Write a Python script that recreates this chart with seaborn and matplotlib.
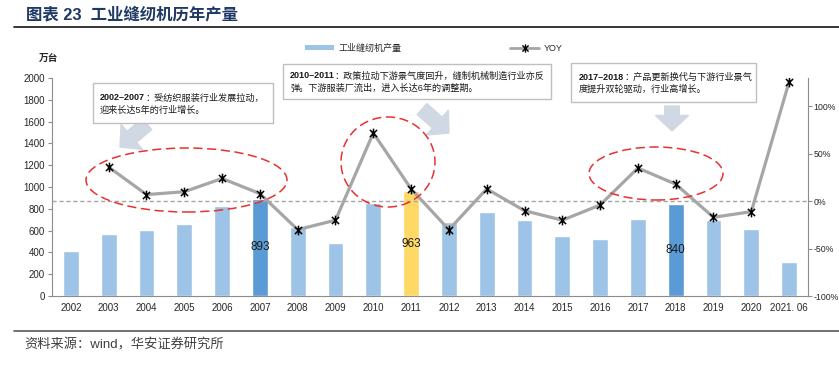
import numpy as np
import pandas as pd
import matplotlib
matplotlib.use('Agg')
import matplotlib.pyplot as plt
import seaborn as sns
from matplotlib.patches import Ellipse, Rectangle, Patch
from matplotlib.lines import Line2D
from matplotlib.path import Path

# Data
years = ['2002', '2003', '2004', '2005', '2006', '2007', '2008', '2009', '2010', '2011',
         '2012', '2013', '2014', '2015', '2016', '2017', '2018', '2019', '2020', '2021. 06']
output = [415, 565, 605, 660, 825, 893, 630, 490, 850, 963,
          680, 770, 700, 555, 525, 705, 840, 695, 615, 310]
yoy = [np.nan, 36, 7, 10, 24, 8, -30, -20, 72, 13,
       -30, 13, -10, -20, -4, 35, 18, -17, -11, 126]
labelled = {'2007': '893', '2011': '963', '2018': '840'}

c_bar = '#9DC3E6'
c_dark = '#5B9BD5'
c_yel = '#FFD966'
colors = [c_dark if y in ('2007', '2018') else c_yel if y == '2011' else c_bar for y in years]

df = pd.DataFrame({'year': years, 'output': output, 'yoy': yoy})
df['pos'] = range(len(df))

sns.set_style('white')
plt.rcParams['font.family'] = ['Liberation Sans', 'Noto Sans CJK SC', 'DejaVu Sans']
plt.rcParams['axes.unicode_minus'] = False

W, H = 839, 365
fig = plt.figure(figsize=(W / 100, H / 100), dpi=100)


def fx(px):
    return px / W


def fy(py):
    return 1 - py / H


ax = fig.add_axes([fx(52), fy(296), fx(808) - fx(52), fy(78) - fy(296)])
sns.barplot(data=df, x='year', y='output', hue='year', palette=colors, legend=False,
            width=0.42, saturation=1, ax=ax)
ax.set_xlim(-0.5, len(years) - 0.5)
ax.set_ylim(0, 2000)
ax.set_yticks(range(0, 2001, 200))
ax.set_xlabel('')
ax.set_ylabel('')
ax.set_xticks(np.arange(-0.5, len(years), 1), minor=True)
ax.tick_params(axis='x', which='major', length=0, labelsize=7, pad=5, colors='#262626')
ax.tick_params(axis='x', which='minor', length=4, direction='out', color='#8C8C8C', width=0.8)
ax.tick_params(axis='y', length=3, direction='out', labelsize=7, color='#8C8C8C',
               colors='#262626', width=0.8, pad=2)
for s in ['top', 'right']:
    ax.spines[s].set_visible(False)
for s in ['left', 'bottom']:
    ax.spines[s].set_color('#8C8C8C')
    ax.spines[s].set_linewidth(0.8)

for i, y in enumerate(years):
    if y in labelled:
        ax.text(i, output[i] / 2, labelled[y], ha='center', va='center', fontsize=8.5,
                color='#1A1A1A')

# YOY on the right axis
ax2 = ax.twinx()
ax2.axhline(0, color='#A6A6A6', ls=(0, (3, 2)), lw=1, zorder=1)
sns.lineplot(data=df, x='pos', y='yoy', ax=ax2, color='#A6A6A6', lw=2.3, zorder=2)
star = Path([(-1, -1), (1, 1), (-1, 1), (1, -1), (0, -1.35), (0, 1.35)],
            [Path.MOVETO, Path.LINETO] * 3)
ax2.plot(df['pos'], df['yoy'], ls='none', marker=star, ms=7, mec='black', mfc='none',
         mew=1.1, zorder=3)
ax2.set_ylim(-100, 130)
ax2.set_yticks([-100, -50, 0, 50, 100])
ax2.set_yticklabels([f'{v}%' for v in [-100, -50, 0, 50, 100]])
ax2.set_xlabel('')
ax2.set_ylabel('')
ax2.tick_params(axis='y', length=3, direction='out', labelsize=6.3, color='#8C8C8C',
                colors='#262626', width=0.8, pad=1)
for s in ['top', 'left', 'bottom']:
    ax2.spines[s].set_visible(False)
ax2.spines['right'].set_color('#8C8C8C')
ax2.spines['right'].set_linewidth(0.8)
ax2.set_xlim(-0.5, len(years) - 0.5)

# unit label
fig.text(fx(49), fy(58), '万台', ha='center', va='center', fontsize=7, weight='bold',
         color='#262626')

# legend
handles = [Patch(facecolor=c_bar, edgecolor='none'),
           Line2D([], [], color='#A6A6A6', lw=2, marker=star, ms=6, mec='black', mfc='none',
                  mew=1)]
fig.legend(handles, ['工业缝纫机产量', 'YOY'], loc='center', bbox_to_anchor=(fx(434), fy(48)),
           ncol=2, frameon=False, fontsize=6.5, handlelength=3.2, handleheight=0.6,
           columnspacing=12, handletextpad=0.5)

# title and rules
fig.text(fx(26), fy(15), '图表 23  工业缝纫机历年产量', ha='left', va='center', fontsize=11.8,
         weight='bold', color='#1F3864')
fig.add_artist(Line2D([fx(14), 1], [fy(27), fy(27)], color='#262626', lw=1.3))
fig.add_artist(Line2D([fx(14), 1], [fy(331), fy(331)], color='#595959', lw=1.2))
fig.text(fx(24), fy(345), '资料来源：wind，华安证券研究所', ha='left', va='center',
         fontsize=9.5, color='#404040')

# annotation boxes
notes = [
    ((93, 83, 273, 123), (100, 98, 110), '2002–2007', '：受纺织服装行业发展拉动，',
     '迎来长达5年的行业增长。'),
    ((283, 64, 551, 99), (290, 76, 88), '2010–2011', '：政策拉动下游景气度回升，缝制机械制造行业亦反',
     '弹。下游服装厂流出，进入长达6年的调整期。'),
    ((571, 63, 756, 102), (579, 77, 89), '2017–2018', '：产品更新换代与下游行业景气',
     '度提升双轮驱动，行业高增长。'),
]
fig.canvas.draw()
renderer = fig.canvas.get_renderer()
for (x0, y0, x1, y1), (tx, ty1, ty2), bold, rest, line2 in notes:
    fig.add_artist(Rectangle((fx(x0), fy(y1)), fx(x1) - fx(x0), fy(y0) - fy(y1),
                             facecolor='white', edgecolor='#BFBFBF', lw=1, zorder=5))
    t = fig.text(fx(tx), fy(ty1), bold, ha='left', va='center', fontsize=6.5, weight='bold',
                 color='#1A1A1A', zorder=6)
    bb = t.get_window_extent(renderer)
    fig.text(bb.x1 / W, fy(ty1), rest, ha='left', va='center', fontsize=6.6,
             color='#1A1A1A', zorder=6)
    fig.text(fx(tx), fy(ty2), line2, ha='left', va='center', fontsize=6.6, color='#1A1A1A',
             zorder=6)

# block arrows
arrow_col = '#D0D8E4'
for (xa, ya), (xb, yb) in [((147, 124), (120, 147)), ((422, 109), (449, 133)),
                           ((672, 106), (672, 131))]:
    ax.annotate('', xy=(xb, H - yb), xycoords='figure pixels', xytext=(xa, H - ya),
                textcoords='figure pixels', annotation_clip=False,
                arrowprops=dict(arrowstyle='simple,head_length=0.8,head_width=1.7,tail_width=0.75',
                                color=arrow_col, mutation_scale=14, shrinkA=0, shrinkB=0))

# red dashed ellipses
for cx, cy, w, h in [(186.5, 180, 201, 64), (388, 162, 94, 90), (656, 173.5, 134, 53)]:
    fig.add_artist(Ellipse((fx(cx), fy(cy)), fx(w), h / H, facecolor='none',
                           edgecolor='#E8312F', lw=1.1, ls=(0, (6, 3)), zorder=7))

fig.savefig('out.png', dpi=100)
